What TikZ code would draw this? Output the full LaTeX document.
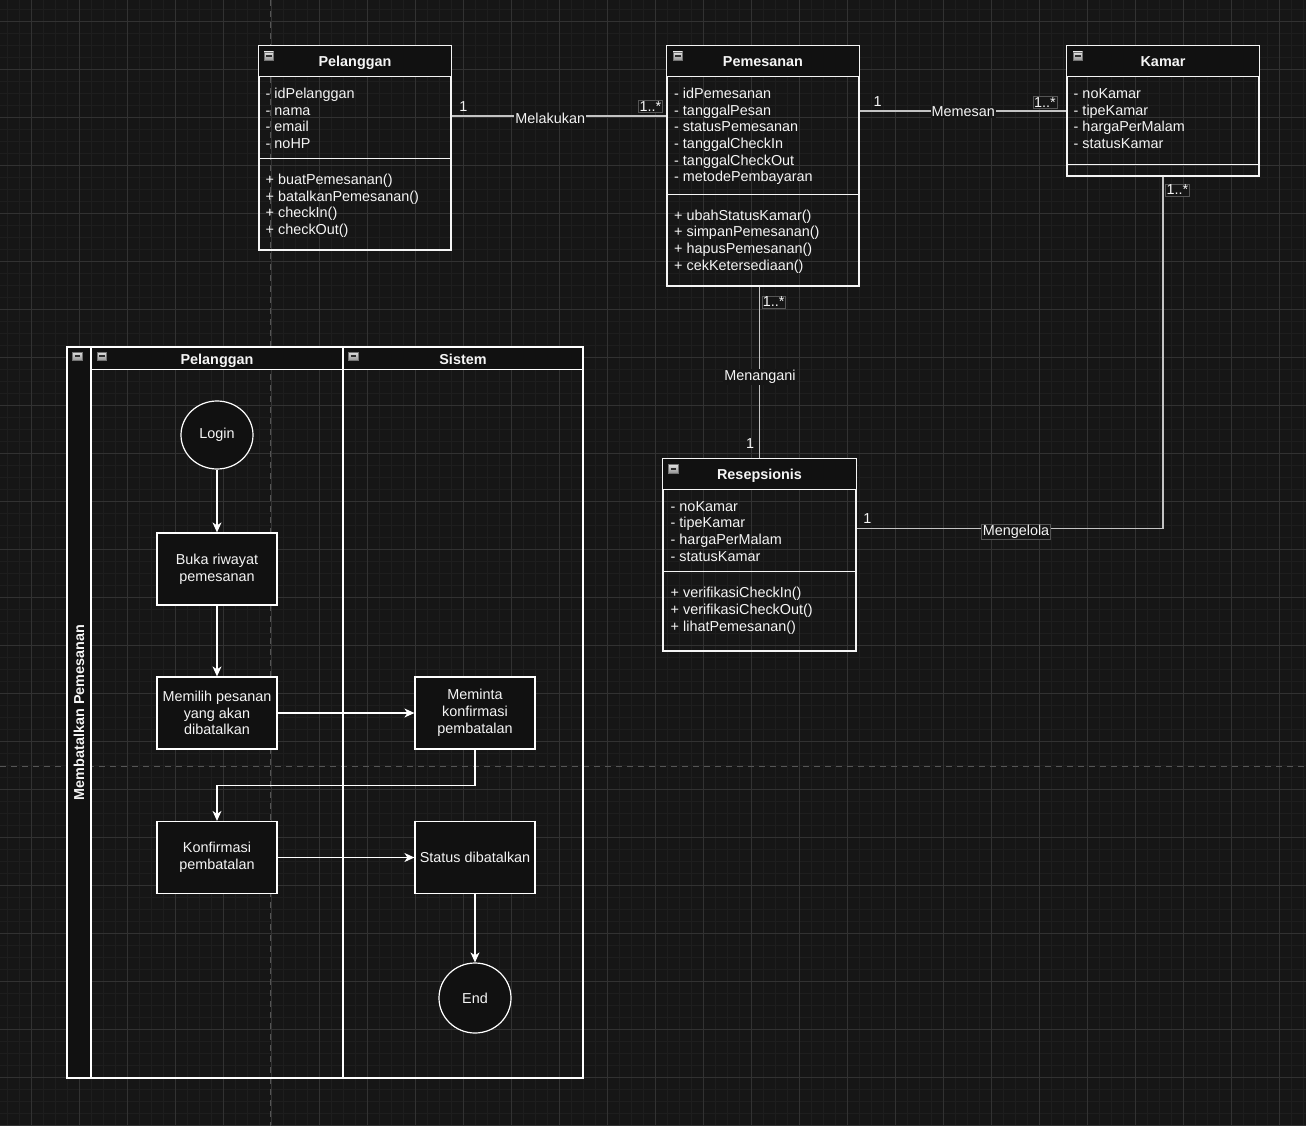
\documentclass[tikz,border=0pt]{standalone}
\usepackage{fontspec}
\setmainfont{Liberation Sans}
\usepackage{xcolor}
\usepackage{tikz}
\usetikzlibrary{arrows.meta}
\usetikzlibrary{shapes.geometric}

\definecolor{canvas}{RGB}{22,22,22}
\definecolor{darkfill}{RGB}{17,17,17}
\definecolor{gridmajor}{RGB}{50,50,50}
\definecolor{gridminor}{RGB}{30,30,30}
\definecolor{pageline}{RGB}{85,85,85}
\definecolor{edgegray}{RGB}{195,195,195}
\definecolor{ink}{RGB}{245,245,245}
\definecolor{icondash}{RGB}{45,45,45}

\tikzset{>={Stealth[length=10pt,width=9pt,inset=3pt]}}
\tikzset{
	txt/.style={text=ink, font=\fontsize{14.4}{16.8}\selectfont},
	boldtxt/.style={text=ink, font=\bfseries\fontsize{14.4}{16.8}\selectfont},
	classbox/.style={draw=ink, line width=1.2pt, inner sep=0pt, minimum width=192pt},
	classhead/.style={fill=darkfill, draw=ink, line width=1.2pt},
	classline/.style={draw=ink, line width=1.2pt},
	member/.style={txt, anchor=base west, inner sep=0pt},
	classtitle/.style={boldtxt, anchor=base, inner sep=0pt},
	assoc/.style={draw=edgegray, line width=1.2pt},
	edgelabel/.style={txt, fill=canvas, inner sep=1pt},
	multbox/.style={txt, fill=canvas, draw=pageline, line width=0.6pt, inner sep=1pt},
	multtxt/.style={txt, inner sep=0pt},
	flowbox/.style={txt, draw=white, fill=darkfill, line width=1.2pt, minimum width=120pt,
		minimum height=72pt, align=center, inner sep=2pt},
	flowend/.style={txt, ellipse, draw=white, fill=darkfill, line width=1.2pt, inner sep=0pt},
	flow/.style={draw=white, line width=1.2pt, ->},
	lanebox/.style={draw=white, line width=1.2pt, inner sep=0pt, minimum height=731pt},
}

\begin{document}
\begin{tikzpicture}[x=1pt, y=-1pt]
	% Canvas
	\useasboundingbox (0,0) rectangle (1306,1126);
	\fill[canvas] (0,0) rectangle (1306,1126);

	\begin{scope}[line width=0.8pt]
	\foreach \k in {0,...,108}
	{
	\draw[gridminor] ({7+12*\k},0) -- ({7+12*\k},1126);
	}
	\foreach \k in {0,...,93}
	{
	\draw[gridminor] (0,{9.7+12*\k}) -- (1306,{9.7+12*\k});
	}
	\foreach \k in {0,...,26}
	{
	\draw[gridmajor] ({31+48*\k},0) -- ({31+48*\k},1126);
	}
	\foreach \k in {0,...,23}
	{
	\draw[gridmajor] (0,{21.7+48*\k}) -- (1306,{21.7+48*\k});
	}
	\end{scope}

	% Page breaks
	\draw[pageline, line width=1pt, dash pattern=on 6pt off 5pt] (270.7,0) -- (270.7,1126);
	\draw[pageline, line width=1pt, dash pattern=on 6pt off 5pt] (0,766) -- (1306,766);

	% Class Pelanggan
	\node[classbox, minimum height=204pt] (pelanggan) at (355,148) {};
	\filldraw[classhead] (pelanggan.north west) rectangle ([yshift=-31pt]pelanggan.north east);
	\draw[classline] ([yshift=-113pt]pelanggan.north west) -- ([yshift=-113pt]pelanggan.north east);
	\node[classtitle] (pelanggan-title) at (355,66.5) {Pelanggan};
	\foreach \txt [count=\i] in {idPelanggan, nama, email, noHP}
	{
	\node[member] (pelanggan-attr\i) at (265.5,{98.5+16.7*(\i-1)}) {- \txt};
	}
	\foreach \txt [count=\i] in {buatPemesanan(), batalkanPemesanan(), checkIn(), checkOut()}
	{
	\node[member] (pelanggan-op\i) at (265.5,{184.5+16.7*(\i-1)}) {+ \txt};
	}

	% Class Pemesanan
	\node[classbox, minimum height=240pt] (pemesanan) at (763,166) {};
	\filldraw[classhead] (pemesanan.north west) rectangle ([yshift=-31pt]pemesanan.north east);
	\draw[classline] ([yshift=-149pt]pemesanan.north west) -- ([yshift=-149pt]pemesanan.north east);
	\node[classtitle] (pemesanan-title) at (763,66.5) {Pemesanan};
	\foreach \txt [count=\i] in {idPemesanan, tanggalPesan, statusPemesanan, tanggalCheckIn,
		tanggalCheckOut, metodePembayaran}
	{
	\node[member] (pemesanan-attr\i) at (674,{98.5+16.7*(\i-1)}) {- \txt};
	}
	\foreach \txt [count=\i] in {ubahStatusKamar(), simpanPemesanan(), hapusPemesanan(),
		cekKetersediaan()}
	{
	\node[member] (pemesanan-op\i) at (674,{220+16.7*(\i-1)}) {+ \txt};
	}

	% Class Kamar
	\node[classbox, minimum height=130pt] (kamar) at (1163,111) {};
	\filldraw[classhead] (kamar.north west) rectangle ([yshift=-31pt]kamar.north east);
	\draw[classline] ([yshift=-119pt]kamar.north west) -- ([yshift=-119pt]kamar.north east);
	\node[classtitle] (kamar-title) at (1163,66.5) {Kamar};
	\foreach \txt [count=\i] in {noKamar, tipeKamar, hargaPerMalam, statusKamar}
	{
	\node[member] (kamar-attr\i) at (1073.5,{98.5+16.7*(\i-1)}) {- \txt};
	}

	% Class Resepsionis
	\node[classbox, minimum width=193pt, minimum height=192pt] (resepsionis) at (759.5,555) {};
	\filldraw[classhead] (resepsionis.north west) rectangle ([yshift=-31pt]resepsionis.north east);
	\draw[classline] ([yshift=-113pt]resepsionis.north west) -- ([yshift=-113pt]resepsionis.north east);
	\node[classtitle] (resepsionis-title) at (759.5,479.5) {Resepsionis};
	\foreach \txt [count=\i] in {noKamar, tipeKamar, hargaPerMalam, statusKamar}
	{
	\node[member] (resepsionis-attr\i) at (670.5,{511+16.7*(\i-1)}) {- \txt};
	}
	\foreach \txt [count=\i] in {verifikasiCheckIn(), verifikasiCheckOut(), lihatPemesanan()}
	{
	\node[member] (resepsionis-op\i) at (670.5,{597.7+16.7*(\i-1)}) {+ \txt};
	}

	% Associations
	\coordinate (melakukan-y) at (0,116);
	\coordinate (memesan-y) at (0,111);
	\coordinate (mengelola-y) at (0,528.7);

	\draw[assoc] (pelanggan.east |- melakukan-y) -- (pemesanan.west |- melakukan-y);
	\node[edgelabel] (melakukan) at (550.3,118) {Melakukan};
	\node[multtxt] (melakukan-src) at (463.3,106.7) {1};
	\node[multbox] (melakukan-dst) at (650.4,106.7) {1..*};

	\draw[assoc] (pemesanan.east |- memesan-y) -- (kamar.west |- memesan-y);
	\node[edgelabel] (memesan) at (963.3,112) {Memesan};
	\node[multtxt] (memesan-src) at (877.7,101.7) {1};
	\node[multbox] (memesan-dst) at (1045,102.5) {1..*};

	\draw[assoc] (resepsionis.north |- pemesanan.south) -- (resepsionis.north);
	\node[edgelabel] (menangani) at (760,377) {Menangani};
	\node[multbox] (menangani-src) at (773.7,302) {1..*};
	\node[multtxt] (menangani-dst) at (750,443.3) {1};

	\draw[assoc] (kamar.south) |- (resepsionis.east |- mengelola-y);
	\node[multbox] (mengelola) at (1016,531.7) {Mengelola};
	\node[multbox] (mengelola-src) at (1177.3,190) {1..*};
	\node[multtxt] (mengelola-dst) at (867.3,518.3) {1};

	% Swimlanes
	\node[lanebox, minimum width=24pt, fill=darkfill] (poolstrip) at (79,712.5) {};
	\fill[darkfill] (91,347) rectangle (583,370.3);
	\node[lanebox, minimum width=252pt] (lanecust) at (217,712.5) {};
	\node[lanebox, minimum width=240pt] (lanesys) at (463,712.5) {};
	\draw[white, line width=1.2pt] ([yshift=-23.3pt]lanecust.north west) -- ([yshift=-23.3pt]lanesys.north east);
	\node[boldtxt, rotate=90] (pooltitle) at (poolstrip.center) {Membatalkan Pemesanan};
	\node[classtitle] (lanecust-title) at (217,364) {Pelanggan};
	\node[classtitle] (lanesys-title) at (463,364) {Sistem};

	% Collapse icons
	\foreach \ix/\iy in {264/52, 673/52, 1073/52, 668.5/464.5, 72.5/352, 97/352, 348.5/352}
	{
	\draw[top color=white!88!black, bottom color=white!58!black, draw=white!45!black, line width=0.5pt]
	(\ix,\iy) rectangle ++(9.5,8.5);
	\draw[icondash, line width=1.6pt] (\ix+2,\iy+4.25) -- (\ix+7.5,\iy+4.25);
	}

	% Activity
	\node[flowend, minimum width=72pt, minimum height=68pt] (login) at (217,435) {Login};
	\node[flowbox] (buka) at (217,569) {Buka riwayat\\pemesanan};
	\node[flowbox] (memilih) at (217,713) {Memilih pesanan\\yang akan\\dibatalkan};
	\node[flowbox] (meminta) at (475,713) {Meminta\\konfirmasi\\pembatalan};
	\node[flowbox] (konfirmasi) at (217,857.5) {Konfirmasi\\pembatalan};
	\node[flowbox] (status) at (475,857.5) {Status dibatalkan};
	\node[flowend, minimum width=72pt, minimum height=70pt] (end) at (475,998) {End};

	\draw[flow] (login) -- (buka);
	\draw[flow] (buka) -- (memilih);
	\draw[flow] (memilih) -- (meminta);
	\draw[flow] (meminta.south) -- ++(0,36) -| (konfirmasi.north);
	\draw[flow] (konfirmasi) -- (status);
	\draw[flow] (status) -- (end);
\end{tikzpicture}
\end{document}
